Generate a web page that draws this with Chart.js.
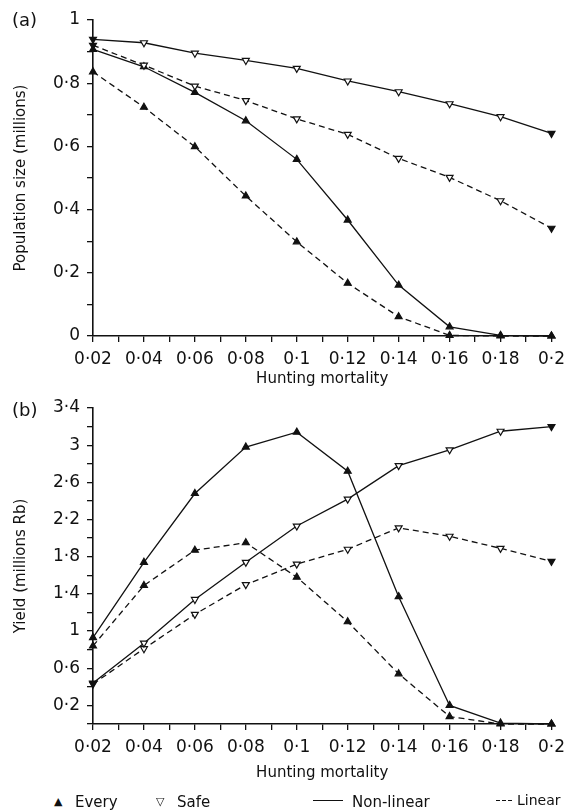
<!DOCTYPE html>
<html>
<head>
<meta charset="utf-8">
<script src="https://cdn.jsdelivr.net/npm/chart.js@4.4.1/dist/chart.umd.min.js"></script>
<style>
  body { margin: 0; background: #fff; font-family: 'DejaVu Sans', sans-serif; color: #111; }
  #wrap { position: relative; width: 572px; height: 812px; overflow: hidden; }
  canvas { position: absolute; left: 0; }
  .tag { position: absolute; font-size: 18px; line-height: 18px; }
  .leg { position: absolute; font-size: 15px; line-height: 16px; top: 794px; }
  .line { position: absolute; top: 800px; height: 1.3px; background: #111; }
  .dash { background: repeating-linear-gradient(90deg, #111 0 4px, transparent 4px 6px); }
</style>
</head>
<body>
<div id="wrap">
  <canvas id="chartA" width="572" height="396" style="top:0"></canvas>
  <canvas id="chartB" width="572" height="400" style="top:390px"></canvas>
  <div class="tag" style="left:12px;top:11px">(a)</div>
  <div class="tag" style="left:12px;top:401px">(b)</div>
  <div class="leg" style="left:54px;font-size:11px">▲</div>
  <div class="leg" style="left:75px">Every</div>
  <div class="leg" style="left:156px;font-size:11px">▽</div>
  <div class="leg" style="left:177px">Safe</div>
  <div class="line" style="left:313px;width:30px"></div>
  <div class="leg" style="left:352px">Non-linear</div>
  <div class="line dash" style="left:496px;width:16px"></div>
  <div class="leg" style="left:517px;top:793px;font-size:14px;line-height:15px">Linear</div>
</div>
<script>
// Mortalidade de caça (eixo x comum aos dois painéis)
const mortality = [0.02, 0.04, 0.06, 0.08, 0.1, 0.12, 0.14, 0.16, 0.18, 0.2];

// (a) Tamanho da população (milhões)
const popSafeNonLinear  = [0.939, 0.928, 0.895, 0.872, 0.847, 0.807, 0.773, 0.735, 0.694, 0.641];
const popSafeLinear     = [0.920, 0.857, 0.791, 0.745, 0.687, 0.638, 0.562, 0.502, 0.428, 0.341];
const popEveryNonLinear = [0.907, 0.852, 0.771, 0.681, 0.559, 0.367, 0.161, 0.029, 0.002, 0];
const popEveryLinear    = [0.836, 0.724, 0.599, 0.443, 0.298, 0.167, 0.061, 0.002, 0, 0];

// (b) Rendimento (milhões Rb)
const yieldSafeNonLinear  = [0.44, 0.87, 1.34, 1.74, 2.13, 2.42, 2.78, 2.95, 3.15, 3.20];
const yieldSafeLinear     = [0.43, 0.81, 1.18, 1.50, 1.72, 1.88, 2.11, 2.02, 1.89, 1.75];
const yieldEveryNonLinear = [0.93, 1.74, 2.48, 2.98, 3.14, 2.72, 1.37, 0.20, 0.01, 0];
const yieldEveryLinear    = [0.84, 1.49, 1.87, 1.95, 1.58, 1.10, 0.54, 0.08, 0, 0];

const INK = '#111';
const FONT = "'DejaVu Sans', sans-serif";

function fmt(v) {
    return String(Number(v.toFixed(2))).replace('.', '\u00b7');
}

function serie(label, ys, every, linear) {
    return {
        label: label,
        data: mortality.map((x, i) => ({ x: x, y: ys[i] })),
        borderColor: INK,
        borderWidth: 1.3,
        borderDash: linear ? [6, 4] : [],
        pointStyle: 'triangle',
        pointRotation: every ? 0 : 180,
        pointRadius: 4,
        pointBorderColor: INK,
        pointBorderWidth: 1.2,
        pointBackgroundColor: every ? INK : (c => (c.dataIndex === 0 || c.dataIndex === ys.length - 1) ? INK : '#fff'),
        tension: 0,
        clip: false
    };
}

function axisX(scaleHeight) {
    return {
        type: 'linear', min: 0.02, max: 0.2,
        afterFit: s => { s.height = scaleHeight; },
        grid: { drawOnChartArea: false, drawTicks: true, tickLength: 6, color: INK, lineWidth: 1.3 },
        border: { color: INK, width: 1.6 },
        ticks: {
            stepSize: 0.01, autoSkip: false, maxRotation: 0, padding: 7,
            color: INK, font: { family: FONT, size: 17 },
            callback: v => (Math.round(v * 100) % 2 === 0 ? fmt(v) : '')
        },
        title: { display: true, text: 'Hunting mortality', color: INK, font: { family: FONT, size: 15 }, padding: { top: 0, bottom: 8 } }
    };
}

function axisY(max, title, showLabel) {
    return {
        type: 'linear', min: 0, max: max,
        afterFit: s => { s.width = 93; },
        grid: { drawOnChartArea: false, drawTicks: true, tickLength: 6, color: INK, lineWidth: 1.3 },
        border: { color: INK, width: 1.6 },
        ticks: {
            stepSize: max > 2 ? 0.2 : 0.1, autoSkip: false, padding: 7,
            color: INK, font: { family: FONT, size: 17 },
            callback: v => (showLabel(Math.round(v * 10)) ? fmt(v) : '')
        },
        title: { display: true, text: title, color: INK, font: { family: FONT, size: 15 }, padding: { top: 12, bottom: 0 } }
    };
}

function commonOptions(x, y, padTop) {
    return {
        responsive: false,
        animation: false,
        layout: { padding: { top: padTop, right: 18, bottom: 0, left: 0 } },
        plugins: { legend: { display: false }, tooltip: { enabled: false } },
        scales: { x: x, y: y }
    };
}

new Chart(document.getElementById('chartA'), {
    type: 'line',
    data: {
        datasets: [
            serie('Safe non-linear', popSafeNonLinear, false, false),
            serie('Safe linear', popSafeLinear, false, true),
            serie('Every non-linear', popEveryNonLinear, true, false),
            serie('Every linear', popEveryLinear, true, true)
        ]
    },
    options: commonOptions(axisX(60), axisY(1, 'Population size (millions)', n => n % 2 === 0), 20)
});

new Chart(document.getElementById('chartB'), {
    type: 'line',
    data: {
        datasets: [
            serie('Safe non-linear', yieldSafeNonLinear, false, false),
            serie('Safe linear', yieldSafeLinear, false, true),
            serie('Every non-linear', yieldEveryNonLinear, true, false),
            serie('Every linear', yieldEveryLinear, true, true)
        ]
    },
    options: commonOptions(axisX(66), axisY(3.4, 'Yield (millions Rb)', n => n % 4 === 2), 18)
});
</script>
</body>
</html>
